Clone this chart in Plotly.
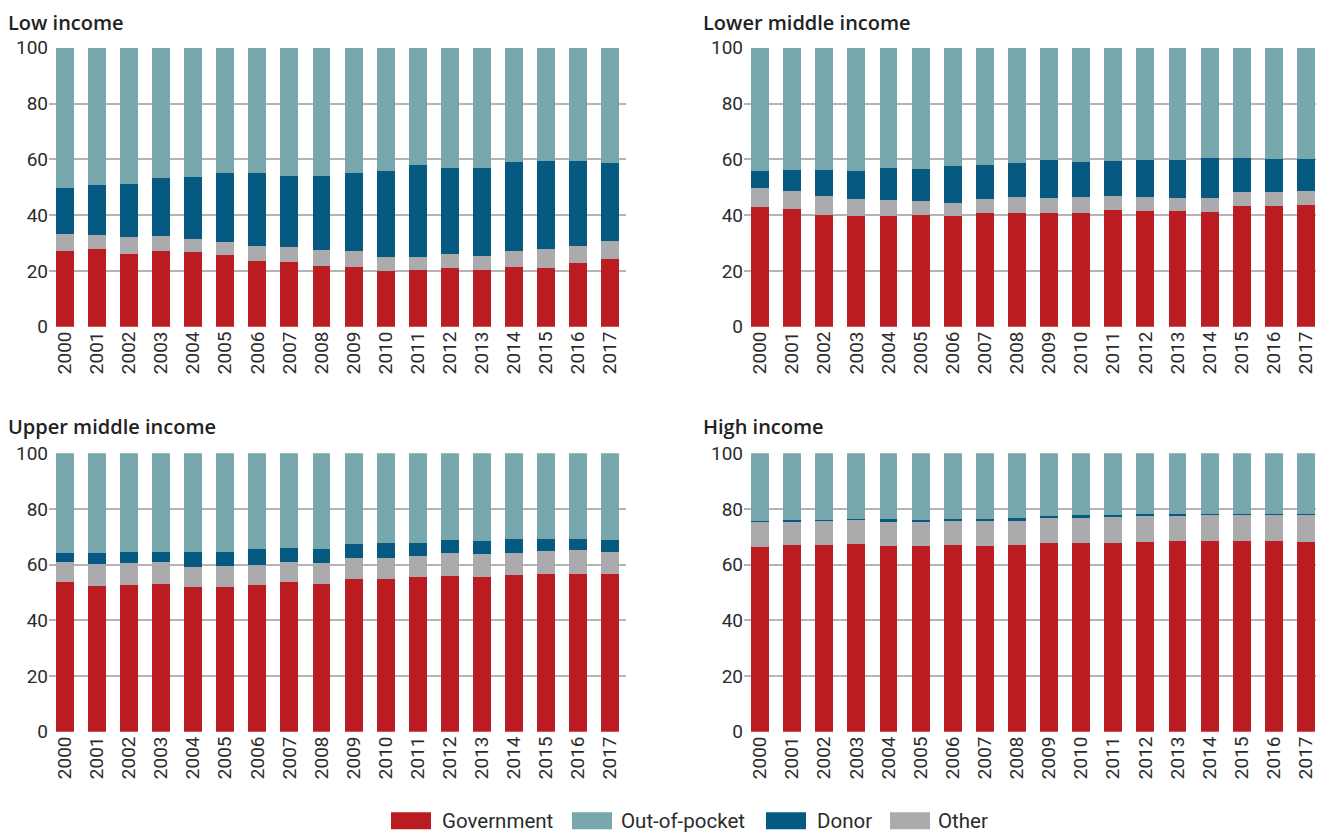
import plotly.graph_objects as go
from plotly.subplots import make_subplots

years = [str(y) for y in range(2000, 2018)]

# shares of health spending (%), stacked bottom to top: government, other, donor, out-of-pocket
low_gov = [27.1, 27.8, 26.0, 27.1, 26.8, 25.7, 23.5, 23.2, 21.7, 21.4, 20.0, 20.3, 21.0, 20.3, 21.4, 21.0, 22.8, 24.3]
low_other = [6.1, 5.1, 6.1, 5.4, 4.6, 4.6, 5.4, 5.4, 5.8, 5.7, 5.0, 4.7, 5.0, 5.0, 5.7, 6.8, 6.1, 6.4]
low_donor = [16.5, 17.9, 19.0, 20.8, 22.2, 24.8, 26.2, 25.4, 26.5, 28.0, 30.8, 32.9, 30.9, 31.6, 31.9, 31.6, 30.5, 28.0]
low_oop = [50.3, 49.2, 48.9, 46.7, 46.4, 44.9, 44.9, 46.0, 46.0, 44.9, 44.2, 42.1, 43.1, 43.1, 41.0, 40.6, 40.6, 41.3]

lmi_gov = [42.9, 42.2, 40.0, 39.7, 39.7, 40.0, 39.7, 40.7, 40.7, 40.7, 40.7, 41.8, 41.5, 41.5, 41.1, 43.2, 43.2, 43.6]
lmi_other = [6.8, 6.4, 6.8, 6.1, 5.7, 5.0, 4.6, 5.1, 5.8, 5.4, 5.8, 5.0, 5.0, 4.6, 5.0, 5.1, 5.1, 5.0]
lmi_donor = [6.1, 7.6, 9.4, 10.0, 11.5, 11.5, 13.3, 12.1, 12.2, 13.6, 12.5, 12.6, 13.2, 13.6, 14.4, 12.2, 11.8, 11.5]
lmi_oop = [44.2, 43.8, 43.8, 44.2, 43.1, 43.5, 42.4, 42.1, 41.3, 40.3, 41.0, 40.6, 40.3, 40.3, 39.5, 39.5, 39.9, 39.9]

umi_gov = [53.8, 52.3, 52.7, 53.1, 52.0, 52.0, 52.7, 53.8, 53.1, 54.9, 54.9, 55.6, 55.9, 55.6, 56.3, 56.6, 56.6, 56.6]
umi_other = [7.2, 7.9, 7.9, 7.9, 7.2, 7.5, 7.2, 7.2, 7.5, 7.5, 7.5, 7.5, 8.3, 8.2, 7.9, 8.3, 8.7, 8.0]
umi_donor = [3.2, 4.0, 4.0, 3.6, 5.4, 5.1, 5.7, 5.0, 5.0, 5.0, 5.4, 4.7, 4.7, 4.7, 5.0, 4.3, 3.9, 4.3]
umi_oop = [35.8, 35.8, 35.4, 35.4, 35.4, 35.4, 34.4, 34.0, 34.4, 32.6, 32.2, 32.2, 31.1, 31.5, 30.8, 30.8, 30.8, 31.1]

high_gov = [66.3, 67.1, 67.1, 67.4, 66.7, 66.7, 67.1, 66.7, 67.1, 67.8, 67.8, 67.8, 68.1, 68.5, 68.5, 68.5, 68.5, 68.1]
high_other = [9.0, 8.2, 8.6, 8.6, 8.6, 8.6, 8.6, 9.0, 8.6, 9.0, 9.0, 9.3, 9.4, 9.0, 9.3, 9.3, 9.3, 9.7]
high_donor = [0.4, 0.7, 0.3, 0.4, 1.1, 0.7, 0.7, 0.7, 1.1, 0.7, 1.0, 0.7, 0.7, 0.7, 0.4, 0.4, 0.4, 0.4]
high_oop = [24.3, 24.0, 24.0, 23.6, 23.6, 24.0, 23.6, 23.6, 23.2, 22.5, 22.2, 22.2, 21.8, 21.8, 21.8, 21.8, 21.8, 21.8]

panel_titles = ["Low income", "Lower middle income", "Upper middle income", "High income"]
series_names = ["Government", "Other", "Donor", "Out-of-pocket"]
colors = {"Government": "#BA1C21", "Other": "#ABABAD", "Donor": "#065980", "Out-of-pocket": "#78A7AD"}
legend_order = ["Government", "Out-of-pocket", "Donor", "Other"]

panels = [
    (low_gov, low_other, low_donor, low_oop),
    (lmi_gov, lmi_other, lmi_donor, lmi_oop),
    (umi_gov, umi_other, umi_donor, umi_oop),
    (high_gov, high_other, high_donor, high_oop),
]

# page body adds an 8px margin, so the figure is a bit smaller and shifted
OFF = 8
W, H = 1324 - OFF, 832 - OFF
FONT = "Roboto"

fig = make_subplots(rows=2, cols=2)

for i, panel in enumerate(panels):
    r, c = i // 2 + 1, i % 2 + 1
    for name, vals in zip(series_names, panel):
        fig.add_trace(
            go.Bar(x=years, y=vals, name=name, marker_color=colors[name],
                   marker_line_width=0, showlegend=False),
            row=r, col=c,
        )

# screen-pixel layout of plot areas
x_doms = [(49, 626), (744, 1322)]
y_doms = [(47.7, 326.7), (453.3, 731.7)]

def px_x(p):
    return (p - OFF) / W

def px_y(p):
    return 1 - (p - OFF) / H

for i in range(4):
    r, c = i // 2, i % 2
    ax = "" if i == 0 else str(i + 1)
    fig.layout["xaxis" + ax].update(
        domain=[px_x(x_doms[c][0]), px_x(x_doms[c][1])],
        tickangle=-90, showgrid=False, showline=False, ticks="", automargin=False,
        tickfont=dict(family=FONT, size=19, color="#2b2b2b"),
    )
    fig.layout["yaxis" + ax].update(
        domain=[px_y(y_doms[r][1]), px_y(y_doms[r][0])],
        range=[0, 100], dtick=20, showgrid=True, gridcolor="#B4B4B4", gridwidth=1.6,
        zeroline=False, showline=False, ticks="", automargin=False,
        tickfont=dict(family=FONT, size=19, color="#2b2b2b"),
    )
    fig.add_annotation(
        text=panel_titles[i], xref="paper", yref="paper",
        x=px_x(7 if c == 0 else 702), y=px_y(8 if r == 0 else 412),
        xanchor="left", yanchor="top", showarrow=False, borderpad=0,
        font=dict(family="Open Sans", size=20, color="#222222", weight=600),
    )

# legend drawn as swatches + labels
legend_pos = {"Government": (391, 441), "Out-of-pocket": (572, 620), "Donor": (766, 816), "Other": (890, 937)}
for name in legend_order:
    sx, tx = legend_pos[name]
    fig.add_shape(
        type="rect", xref="paper", yref="paper",
        x0=px_x(sx), x1=px_x(sx + 40), y0=px_y(829.3), y1=px_y(812.3),
        fillcolor=colors[name], line_width=0,
    )
    fig.add_annotation(
        text=name, xref="paper", yref="paper", x=px_x(tx - 1), y=px_y(820.5),
        xanchor="left", yanchor="middle", showarrow=False,
        font=dict(family=FONT, size=20.5, color="#2b2b2b"),
    )

fig.update_layout(
    barmode="stack",
    bargap=0.44,
    width=W,
    height=H,
    margin=dict(l=0, r=0, t=0, b=0, autoexpand=False),
    plot_bgcolor="white",
    paper_bgcolor="white",
    showlegend=False,
)

fig.write_html("out.html")
